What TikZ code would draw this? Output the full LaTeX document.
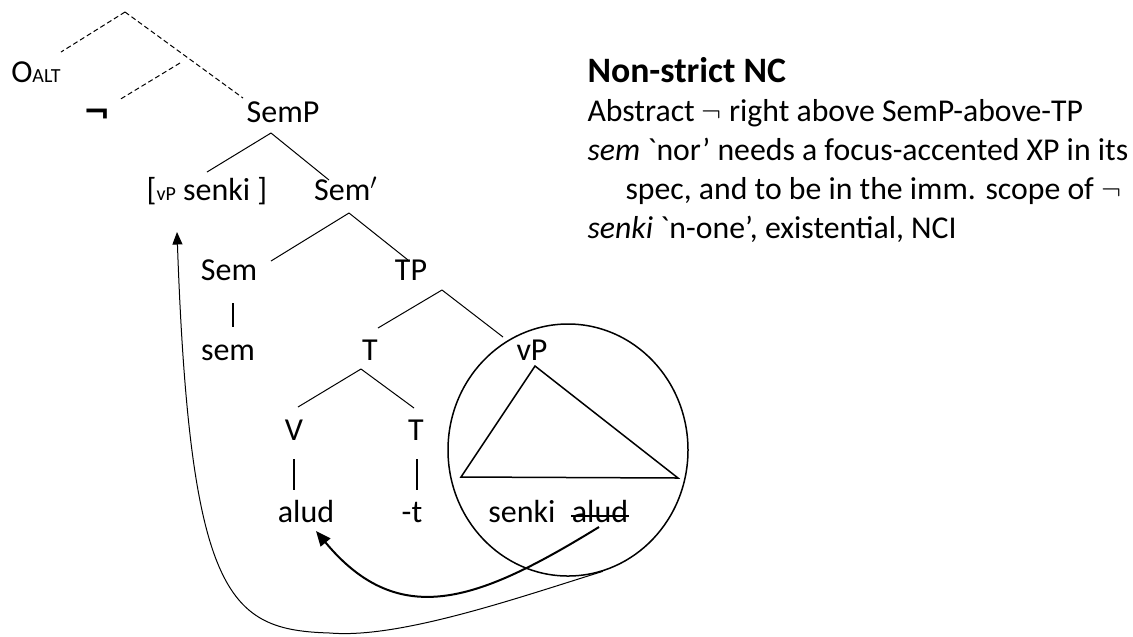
\documentclass[tikz,border=0pt]{standalone}
\usepackage{fontspec}
\setmainfont{Carlito}
\newfontfamily\symfont{DejaVu Sans}
\usepackage{tikz}
\usetikzlibrary{arrows.meta,shapes.geometric}

\begin{document}
\begin{tikzpicture}[x=0.4pt, y=-0.4pt,
    lbl/.style={anchor=base, inner sep=0pt, font=\fontsize{12.8}{15}\selectfont},
    note/.style={anchor=base west, inner sep=0pt, font=\fontsize{12.7}{15}\selectfont},
    branch/.style={line width=0.4pt},
    dashbranch/.style={line width=0.4pt, dash pattern=on 2pt off 1.2pt},
    stem/.style={line width=0.9pt},
    movearrow/.style={line width=0.8pt, -{Triangle[length=6pt,width=5pt]}},
    raisearrow/.style={line width=0.4pt, -{Triangle[length=5pt,width=4pt]}}]
  \useasboundingbox (0,0) rectangle (1133,636);
  % Labels
  \node[lbl] (Oalt) at (36,82) {O{\fontsize{8}{8}\selectfont ALT}};
  \node[lbl] (Neg) at (97,123) {\symfont\bfseries\fontsize{13}{13}\selectfont ¬};
  \node[lbl] (SemP) at (283,122) {SemP};
  \node[lbl] (Spec) at (207,200) {[{\fontsize{8}{8}\selectfont vP} senki ]};
  \node[lbl] (Semb) at (346,200) {Sem$'$};
  \node[lbl] (Sem) at (229,280) {Sem};
  \node[lbl] (TP) at (411,280) {TP};
  \node[lbl] (semw) at (228,360) {sem};
  \node[lbl] (Tb) at (370,360) {T};
  \node[lbl] (vP) at (532,360) {vP};
  \node[lbl] (V) at (294,440) {V};
  \node[lbl] (T) at (416,440) {T};
  \node[lbl] (Alud) at (306,522) {alud};
  \node[lbl] (tw) at (412,522) {-t};
  \node[lbl] (Senki) at (522,522) {senki};
  \node[lbl] (Aludx) at (600,522) {alud};
  % Dashed top of the tree
  \coordinate (Top) at (125,12);
  \coordinate (Mid) at (180,63);
  \draw[dashbranch] (Top) -- ([shift={(25,-30)}]Oalt.base);
  \draw[dashbranch] (Top) -- ([shift={(-40,-24)}]SemP.base);
  \draw[dashbranch] (Mid) -- ([shift={(22,-23)}]Neg.base);
  % Branches
  \draw[branch] ([shift={(-12,11)}]SemP.base) -- ([shift={(0,-28)}]Spec.base);
  \draw[branch] ([shift={(-12,11)}]SemP.base) -- ([shift={(-17,-20)}]Semb.base);
  \draw[branch] ([shift={(3,13)}]Semb.base) -- ([shift={(42,-19)}]Sem.base);
  \draw[branch] ([shift={(3,13)}]Semb.base) -- ([shift={(-3,-20)}]TP.base);
  \draw[branch] ([shift={(31,10)}]TP.base) -- ([shift={(8,-32)}]Tb.base);
  \draw[branch] ([shift={(31,10)}]TP.base) -- ([shift={(-29,-23)}]vP.base);
  \draw[branch] ([shift={(-9,9)}]Tb.base) -- ([shift={(4,-33)}]V.base);
  \draw[branch] ([shift={(-9,9)}]Tb.base) -- ([shift={(-2,-32)}]T.base);
  \draw[stem] ([shift={(4,23)}]Sem.base) -- ([shift={(4,47)}]Sem.base);
  \draw[stem] ([shift={(0,19)}]V.base) -- ([shift={(0,50)}]V.base);
  \draw[stem] ([shift={(1,19)}]T.base) -- ([shift={(1,50)}]T.base);
  % vP triangle and circle
  \draw[line width=0.6pt] ([shift={(3,6)}]vP.base) -- (461,477) -- (678,478) -- cycle;
  \node[draw, ellipse, line width=0.6pt, inner sep=0pt, minimum width=96pt,
    minimum height=100.8pt] (Ring) at (568,450) {};
  \draw[line width=0.6pt] ([shift={(0,-6)}]Aludx.base west) -- ([shift={(0,-6)}]Aludx.base east);
  % Movement arrows
  \draw[movearrow] ([shift={(-1,5)}]Aludx.base) .. controls (480,600) and (400,632)
    .. ([shift={(10,9)}]Alud.base);
  \draw[raisearrow] (Ring.-74) .. controls (520,597) and (400,639) .. (330,633)
    .. controls (230,630) and (190,600) .. ([shift={(-30,32)}]Spec.base);
  % Notes
  \node[note] (Note1) at (587,82) {\fontsize{14.3}{15}\selectfont\textbf{Non-strict NC}};
  \node[note] (Note2) at (587,121) {Abstract $\neg$ right above SemP-above-TP};
  \node[note] (Note3) at (587,160) {\textit{sem} \textasciigrave nor’ needs a focus-accented XP in its};
  \node[note] (Note4) at (625,199) {spec, and to be in the imm. scope of $\neg$};
  \node[note] (Note5) at (587,238) {\textit{senki} \textasciigrave n-one’, existential, NCI};
\end{tikzpicture}
\end{document}
